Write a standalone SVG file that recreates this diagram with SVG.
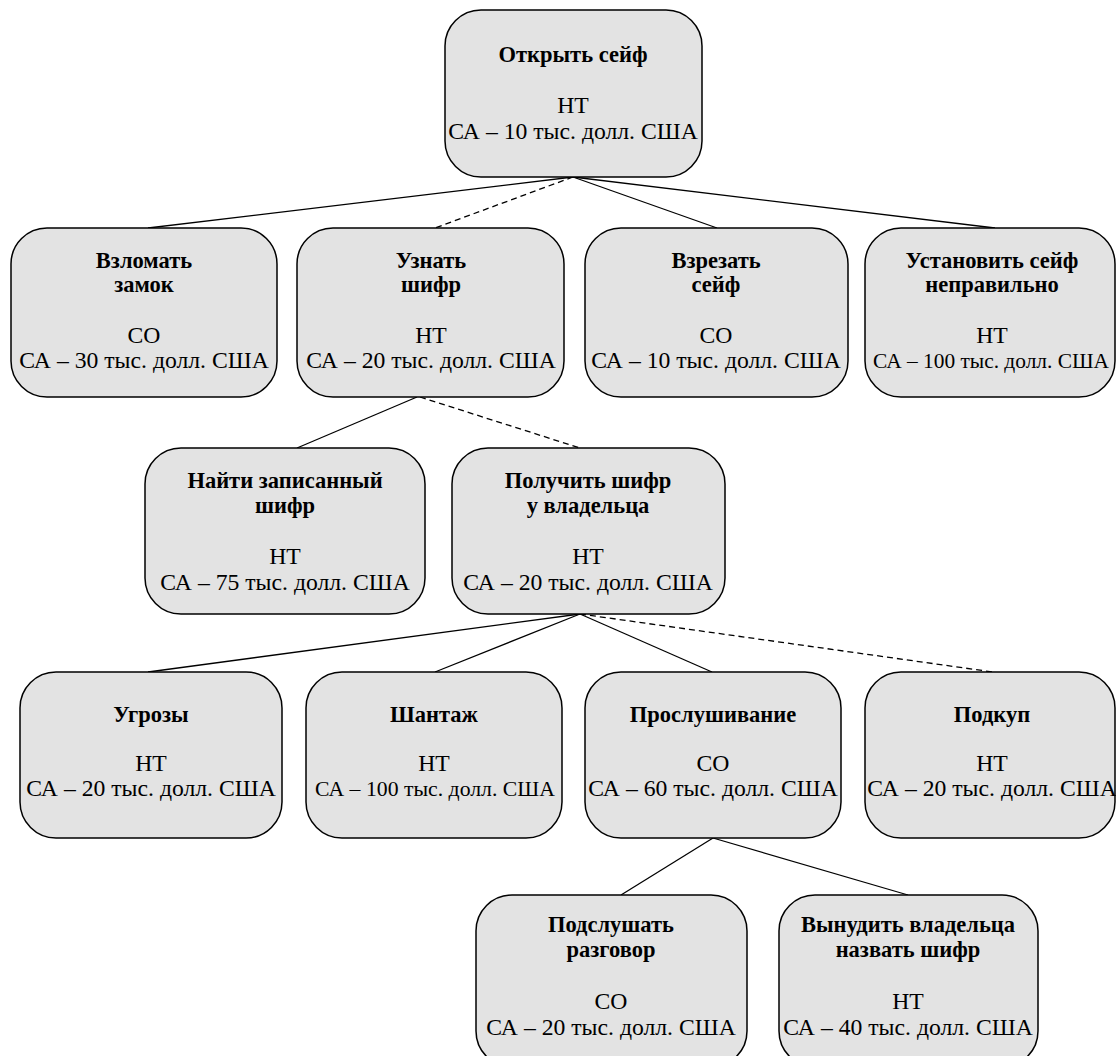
<svg xmlns="http://www.w3.org/2000/svg" width="1116" height="1056" viewBox="0 0 1116 1056">
<style>
.box{fill:#e3e3e3;stroke:#000;stroke-width:1.5}
.t{font-family:"Liberation Serif","Times New Roman",serif;font-weight:bold;font-size:22.5px;text-anchor:middle;fill:#000}
.b{font-family:"Liberation Serif","Times New Roman",serif;font-size:23.7px;text-anchor:middle;fill:#000}
.n{font-size:22px}
.c{stroke:#000;stroke-width:1.3;fill:none}
.d{stroke:#000;stroke-width:1.3;fill:none;stroke-dasharray:6 4}
</style>
<rect width="1116" height="1056" fill="#fff"/>
<g id="connectors">
<line class="c" x1="573" y1="177" x2="148" y2="228"/>
<line class="d" x1="573" y1="177" x2="435" y2="228"/>
<line class="c" x1="573" y1="177" x2="717" y2="228"/>
<line class="c" x1="573" y1="177" x2="995" y2="228"/>
<line class="c" x1="417" y1="397" x2="297" y2="448"/>
<line class="d" x1="420" y1="397" x2="580" y2="448"/>
<line class="c" x1="580" y1="614" x2="148" y2="672"/>
<line class="c" x1="580" y1="614" x2="435" y2="672"/>
<line class="c" x1="580" y1="614" x2="712" y2="672"/>
<line class="d" x1="580" y1="614" x2="993" y2="672"/>
<line class="c" x1="713" y1="838" x2="621" y2="895"/>
<line class="c" x1="713" y1="838" x2="908" y2="895"/>
</g>
<g id="n-root">
<rect class="box" x="445" y="10" width="257" height="167" rx="36"/>
<text class="t" x="573" y="62">Открыть сейф</text>
<text class="b" x="573" y="113">НТ</text>
<text class="b" x="573" y="139">СА – 10 тыс. долл. США</text>
</g>
<g id="n-lock">
<rect class="box" x="11" y="228" width="266" height="169" rx="36"/>
<text class="t" x="144" y="268">Взломать</text>
<text class="t" x="144" y="292">замок</text>
<text class="b" x="144" y="343">СО</text>
<text class="b" x="144" y="368">СА – 30 тыс. долл. США</text>
</g>
<g id="n-learn">
<rect class="box" x="297" y="228" width="267" height="169" rx="36"/>
<text class="t" x="431" y="268">Узнать</text>
<text class="t" x="431" y="292">шифр</text>
<text class="b" x="431" y="343">НТ</text>
<text class="b" x="431" y="368">СА – 20 тыс. долл. США</text>
</g>
<g id="n-cut">
<rect class="box" x="585" y="228" width="263" height="169" rx="36"/>
<text class="t" x="716" y="268">Взрезать</text>
<text class="t" x="716" y="292">сейф</text>
<text class="b" x="716" y="343">СО</text>
<text class="b" x="716" y="368">СА – 10 тыс. долл. США</text>
</g>
<g id="n-install">
<rect class="box" x="865" y="228" width="250" height="169" rx="36"/>
<text class="t" x="992" y="268">Установить сейф</text>
<text class="t" x="992" y="292">неправильно</text>
<text class="b" x="992" y="343">НТ</text>
<text class="b n" x="991" y="368" textLength="236" lengthAdjust="spacingAndGlyphs">СА – 100 тыс. долл. США</text>
</g>
<g id="n-find">
<rect class="box" x="145" y="448" width="280" height="166" rx="36"/>
<text class="t" x="285" y="488">Найти записанный</text>
<text class="t" x="285" y="513">шифр</text>
<text class="b" x="285" y="564">НТ</text>
<text class="b" x="285" y="590">СА – 75 тыс. долл. США</text>
</g>
<g id="n-get">
<rect class="box" x="452" y="448" width="273" height="166" rx="36"/>
<text class="t" x="588" y="488">Получить шифр</text>
<text class="t" x="588" y="513">у владельца</text>
<text class="b" x="588" y="564">НТ</text>
<text class="b" x="588" y="590">СА – 20 тыс. долл. США</text>
</g>
<g id="n-threat">
<rect class="box" x="20" y="672" width="262" height="166" rx="36"/>
<text class="t" x="151" y="722">Угрозы</text>
<text class="b" x="151" y="771">НТ</text>
<text class="b" x="151" y="796">СА – 20 тыс. долл. США</text>
</g>
<g id="n-blackmail">
<rect class="box" x="306" y="672" width="256" height="166" rx="36"/>
<text class="t" x="434" y="722">Шантаж</text>
<text class="b" x="434" y="771">НТ</text>
<text class="b n" x="435" y="796" textLength="240" lengthAdjust="spacingAndGlyphs">СА – 100 тыс. долл. США</text>
</g>
<g id="n-eaves">
<rect class="box" x="585" y="672" width="256" height="166" rx="36"/>
<text class="t" x="713" y="722">Прослушивание</text>
<text class="b" x="713" y="771">СО</text>
<text class="b" x="713" y="796">СА – 60 тыс. долл. США</text>
</g>
<g id="n-bribe">
<rect class="box" x="865" y="672" width="250" height="166" rx="36"/>
<text class="t" x="992" y="722">Подкуп</text>
<text class="b" x="992" y="771">НТ</text>
<text class="b" x="992" y="796">СА – 20 тыс. долл. США</text>
</g>
<g id="n-listen">
<rect class="box" x="476" y="895" width="271" height="172" rx="36"/>
<text class="t" x="611" y="932">Подслушать</text>
<text class="t" x="611" y="957">разговор</text>
<text class="b" x="611" y="1009">СО</text>
<text class="b" x="611" y="1035">СА – 20 тыс. долл. США</text>
</g>
<g id="n-force">
<rect class="box" x="779" y="895" width="259" height="172" rx="36"/>
<text class="t" x="908" y="932">Вынудить владельца</text>
<text class="t" x="908" y="957">назвать шифр</text>
<text class="b" x="908" y="1009">НТ</text>
<text class="b" x="908" y="1035">СА – 40 тыс. долл. США</text>
</g>
</svg>
